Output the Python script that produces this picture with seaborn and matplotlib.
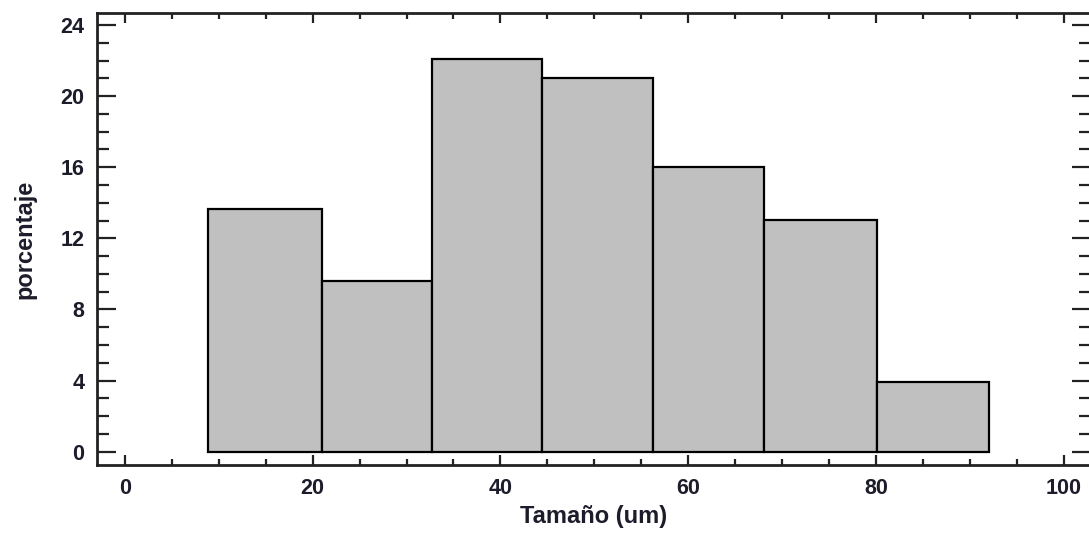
import numpy as np
import seaborn as sns
import matplotlib.pyplot as plt
from matplotlib.ticker import MultipleLocator

# bin edges (um) and percentage per bin
bin_edges = [8.87, 20.95, 32.66, 44.48, 56.27, 68.07, 80.16, 92.04]
porcentaje = [13.65, 9.6, 22.1, 21.0, 16.0, 13.05, 3.9]
x_ticks = [0, 20, 40, 60, 80, 100]
y_ticks = [0, 4, 8, 12, 16, 20, 24]

centros = [(a + b) / 2 for a, b in zip(bin_edges[:-1], bin_edges[1:])]

sns.set_style("ticks")
plt.rcParams['font.family'] = ['Liberation Sans', 'DejaVu Sans']
plt.rcParams['font.weight'] = 'bold'

txt = '#1c1c2a'

fig = plt.figure(figsize=(10.89, 5.34), dpi=100)
ax = fig.add_axes([96.7 / 1089, 69 / 534, (1091 - 96.7) / 1089, (465 - 13.3) / 534])

sns.histplot(x=centros, weights=porcentaje, bins=bin_edges, stat='count',
             color='#c0c0c0', alpha=1, edgecolor='black', linewidth=1.6, ax=ax)

ax.set_xlim(-3.0, 102.9)
ax.set_ylim(-0.75, 24.66)
ax.set_xticks(x_ticks)
ax.set_yticks(y_ticks)
ax.xaxis.set_minor_locator(MultipleLocator(5))
ax.yaxis.set_minor_locator(MultipleLocator(1))

for s in ax.spines.values():
    s.set_visible(True)
    s.set_linewidth(2)
    s.set_color('#222222')

ax.tick_params(axis='x', which='major', direction='in', length=7, width=1.6,
               top=True, bottom=True, pad=9, labelsize=15.5, labelcolor=txt, color='#222222')
ax.tick_params(axis='x', which='minor', direction='in', length=4, width=1.6,
               top=True, bottom=True, color='#222222')
ax.tick_params(axis='y', which='major', direction='in', length=14, width=1.6,
               left=True, right=True, pad=9, labelsize=15.5, labelcolor=txt, color='#222222')
ax.tick_params(axis='y', which='minor', direction='in', length=8.5, width=1.6,
               left=True, right=True, color='#222222')
for lab in ax.get_xticklabels() + ax.get_yticklabels():
    lab.set_fontweight('bold')

ax.set_xlabel('Tamaño (um)', fontsize=17, fontweight='bold', color=txt, labelpad=5)
ax.set_ylabel('porcentaje', fontsize=17, fontweight='bold', color=txt, labelpad=17)

plt.savefig('out.png', dpi=100)
